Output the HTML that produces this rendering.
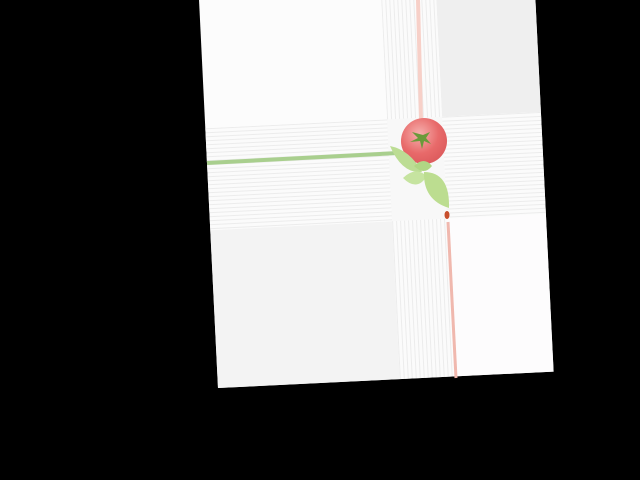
<!DOCTYPE html>
<html><head><meta charset="utf-8"><style>
html,body{margin:0;padding:0;background:#000;width:640px;height:480px;overflow:hidden;font-family:"Liberation Sans",sans-serif}
</style></head><body>
<svg width="640" height="480" viewBox="0 0 640 480" xmlns="http://www.w3.org/2000/svg">
<defs>
<pattern id="vs" width="4" height="10" patternUnits="userSpaceOnUse"><rect width="4" height="10" fill="#fbfbfb"/><rect width="1" height="10" fill="#ececec"/></pattern>
<pattern id="hs" width="10" height="4" patternUnits="userSpaceOnUse"><rect width="10" height="4" fill="#fbfbfb"/><rect width="10" height="1" fill="#ececec"/></pattern>
<radialGradient id="tg" cx="0.4" cy="0.35" r="0.7"><stop offset="0" stop-color="#f6b0ae"/><stop offset="0.6" stop-color="#e86a6a"/><stop offset="1" stop-color="#dc5a5c"/></radialGradient>
</defs>
<rect width="640" height="480" fill="#000"/>
<g transform="rotate(-2.8 218 388)">
  <rect x="218" y="-40" width="336" height="428" fill="#fcfcfc"/>
  <rect x="455" y="-40" width="99" height="168" fill="#efefef"/>
  <rect x="218" y="230" width="182" height="158" fill="#f3f3f3"/>
  <rect x="455" y="230" width="99" height="158" fill="#fdfcfd"/>
  <rect x="218" y="128" width="336" height="102" fill="url(#hs)"/>
  <rect x="400" y="-40" width="55" height="428" fill="url(#vs)"/>
  <rect x="400" y="128" width="55" height="102" fill="#f8f8f8"/>
</g>
<line x1="207" y1="163" x2="398" y2="153" stroke="#a9cf8e" stroke-width="4"/>
<line x1="418" y1="0" x2="421" y2="120" stroke="#f7d0c8" stroke-width="4"/>
<line x1="448" y1="222" x2="456" y2="378" stroke="#f0b8ae" stroke-width="3"/>
<g>
  <circle cx="424" cy="141" r="23" fill="url(#tg)"/>
  <path d="M412 132 l6 6 l-8 4 l10 -1 l2 8 l2 -8 l7 3 l-5 -6 l4 -6 l-7 3z" fill="#6a9a3a"/>
  <path d="M390 146 q20 4 32 26 q-20 2 -32 -26z" fill="#bcdd94"/>
  <path d="M403 178 q12 -12 24 -2 q-10 16 -24 2z" fill="#c6e4a0"/>
  <path d="M424 172 q26 0 25 36 q-26 -8 -25 -36z" fill="#bcdd90"/>
  <path d="M414 166 q10 -10 18 0 q-8 10 -18 0z" fill="#b0d684"/>
</g>
<ellipse cx="447" cy="215" rx="2.5" ry="4" fill="#c8502e"/>
</svg>
</body></html>
